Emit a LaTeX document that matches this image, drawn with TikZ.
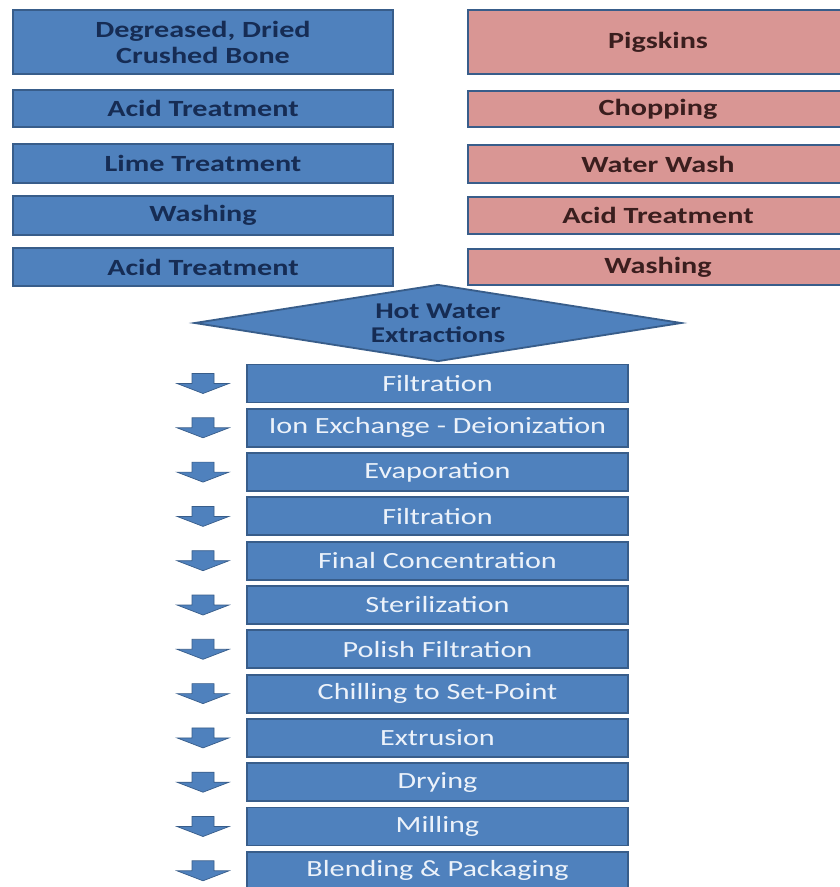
\documentclass[tikz,border=0pt]{standalone}
\usepackage{fontspec}
\setmainfont{Carlito}[FakeStretch=1.3]
\usepackage{tikz}
\usetikzlibrary{shapes.geometric,positioning}
\definecolor{boxBlue}{RGB}{79,129,189}
\definecolor{edgeBlue}{RGB}{56,93,138}
\definecolor{boxPink}{RGB}{217,150,148}
\definecolor{textNavy}{RGB}{22,44,84}
\definecolor{textBrown}{RGB}{58,30,30}
\definecolor{textLight}{RGB}{236,242,250}

\tikzset{
  boneBox/.style={draw=edgeBlue, line width=1.3pt, fill=boxBlue, minimum width=9.5cm,
    text=textNavy, font=\bfseries\fontsize{16.5}{18.5}\selectfont, align=center, inner sep=0pt},
  skinBox/.style={boneBox, fill=boxPink, text=textBrown},
  stepBox/.style={draw=edgeBlue, line width=1.3pt, fill=boxBlue, minimum width=9.525cm,
    minimum height=0.95cm, text=textLight, font=\fontsize{16.5}{18.5}\selectfont, inner sep=0pt},
  flowArrow/.style={draw=edgeBlue, line width=0.5pt, fill=boxBlue}
}

\begin{document}
\begin{tikzpicture}[x=0.025cm, y=-0.025cm]
        \useasboundingbox (0,0) rectangle (840,887);
        \clip (0,0) rectangle (840,887);
        \fill[white] (0,0) rectangle (840,887);
        % Bone route (left column)
        \node[boneBox, minimum height=1.6cm] (bone1) at (203,42) {Degreased, Dried\\Crushed Bone};
        \node[boneBox, minimum height=0.925cm] (bone2) at (203,108.5) {Acid Treatment};
        \node[boneBox, minimum height=0.975cm] (bone3) at (203,163.5) {Lime Treatment};
        \node[boneBox, minimum height=0.975cm] (bone4) at (203,215.5) {Washing};
        \node[boneBox, minimum height=0.95cm] (bone5) at (203,267) {Acid Treatment};
        % Pigskin route (right column, runs off the page)
        \node[skinBox, minimum height=1.6cm] (skin1) at (658,42) {Pigskins};
        \node[skinBox, minimum height=0.9cm] (skin2) at (658,109) {Chopping};
        \node[skinBox, minimum height=0.95cm] (skin3) at (658,164) {Water Wash};
        \node[skinBox, minimum height=0.925cm] (skin4) at (658,215.5) {Acid Treatment};
        \node[skinBox, minimum height=0.9cm] (skin5) at (658,267) {Washing};
        % Merge point
        \node[diamond, draw=edgeBlue, line width=1.3pt, fill=boxBlue, aspect=6.3, inner sep=0pt,
          minimum width=12.175cm, minimum height=1.925cm, text=textNavy, align=center,
          font=\bfseries\fontsize{16}{17}\selectfont] (extract) at (438,323)
          {Hot Water\\Extractions};
        % Common processing steps with side arrows
        \foreach \label [count=\i from 0] in {Filtration, Ion Exchange - Deionization, Evaporation,
            Filtration, Final Concentration, Sterilization, Polish Filtration, Chilling to Set-Point,
            Extrusion, Drying, Milling, Blending \& Packaging} {
          \pgfmathsetmacro\cy{383.5+44.3*\i}
          \node[stepBox] (step\i) at (437.5,\cy) {\label};
          \draw[flowArrow] (192,\cy-10) -- (214,\cy-10) -- (214,\cy) -- (229,\cy)
            -- (203,\cy+10) -- (177,\cy) -- (192,\cy) -- cycle;
        }
      \end{tikzpicture}
\end{document}
